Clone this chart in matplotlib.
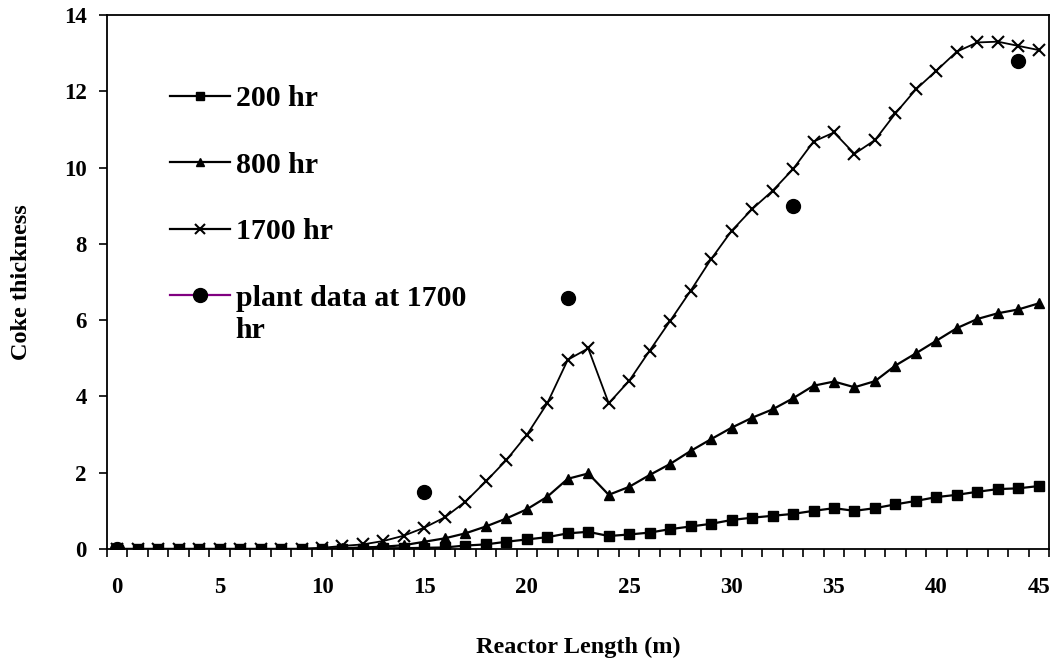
import numpy as np
import matplotlib
matplotlib.use("Agg")
import matplotlib.pyplot as plt

plt.rcParams['font.family'] = ['Liberation Serif', 'DejaVu Serif']
plt.rcParams['font.weight'] = 'bold'

# reactor positions (m)
length = list(range(46))

coke_200 = [0, 0, 0, 0, 0, 0, 0, 0, 0, 0,
            0.01, 0.01, 0.01, 0.02, 0.02, 0.03, 0.04, 0.09, 0.12, 0.19,
            0.25, 0.31, 0.41, 0.45, 0.34, 0.38, 0.43, 0.52, 0.59, 0.66,
            0.76, 0.82, 0.87, 0.92, 1.0, 1.07, 1.0, 1.07, 1.17, 1.26,
            1.36, 1.42, 1.50, 1.57, 1.59, 1.65]

coke_800 = [0, 0, 0, 0, 0, 0, 0, 0, 0, 0,
            0.01, 0.02, 0.04, 0.06, 0.10, 0.19, 0.28, 0.41, 0.59, 0.80,
            1.04, 1.37, 1.84, 1.98, 1.42, 1.63, 1.94, 2.23, 2.57, 2.88,
            3.18, 3.44, 3.66, 3.95, 4.28, 4.39, 4.24, 4.40, 4.81, 5.13,
            5.46, 5.79, 6.03, 6.18, 6.28, 6.44]

coke_1700 = [0, 0, 0, 0, 0, 0, 0, 0, 0, 0,
             0.03, 0.08, 0.12, 0.21, 0.35, 0.56, 0.83, 1.24, 1.77, 2.33,
             2.99, 3.82, 4.96, 5.26, 3.82, 4.41, 5.20, 5.98, 6.77, 7.60,
             8.34, 8.91, 9.39, 9.96, 10.68, 10.92, 10.36, 10.72, 11.42, 12.05,
             12.54, 13.04, 13.28, 13.30, 13.19, 13.08]

plant_x = [0, 15, 22, 33, 44]
plant_y = [0, 1.49, 6.59, 8.98, 12.79]

fig = plt.figure(figsize=(10.56, 6.66), dpi=100)
ax = fig.add_axes([0.1013, 0.1757, 0.8921, 0.8018])

ax.plot(length, coke_200, color='black', lw=1.6, marker='s', ms=7, label='200 hr')
ax.plot(length, coke_800, color='black', lw=1.6, marker='^', ms=7.5, label='800 hr')
ax.plot(length, coke_1700, color='black', lw=1.3, marker='x', ms=8, mew=1.5, label='1700 hr')
ax.plot(plant_x, plant_y, color='#800080', lw=0, marker='o', ms=10,
        mfc='black', mec='black', label='plant data at 1700')

ax.set_xlim(-0.5, 45.5)
ax.set_ylim(0, 14)

# category style x axis: labels every 5, tick marks between categories
ax.set_xticks(range(0, 46, 5))
ax.set_xticks(np.arange(-0.5, 46, 1), minor=True)
ax.tick_params(axis='x', which='major', length=0, pad=20, labelsize=16.5)
ax.tick_params(axis='x', which='minor', length=6, width=1.2, direction='out')
ax.set_yticks(range(0, 15, 2))
ax.tick_params(axis='y', which='major', length=6, width=1.2, direction='out',
               pad=8.5, labelsize=16.5)

for sp in ax.spines.values():
    sp.set_linewidth(1.3)

ax.set_xlabel('Reactor Length (m)', fontsize=17.5, fontweight='bold', labelpad=28)
ax.set_ylabel('Coke thickness', fontsize=17.5, fontweight='bold', labelpad=23)

leg = ax.legend(loc='upper left', bbox_to_anchor=(0.0669, 0.868), frameon=False,
                borderpad=0, borderaxespad=0, handlelength=2.0, labelspacing=1.32,
                handletextpad=0.2, prop={'weight': 'bold', 'size': 21.5})
for line in leg.get_lines():
    line.set_linewidth(1.6)
handles = leg.legend_handles
handles[3].set_linestyle('-')
handles[3].set_linewidth(1.6)
handles[3].set_markersize(10)
handles[0].set_markersize(5.5)
handles[1].set_markersize(6)
handles[2].set_markersize(7)

# wrapped second line of the plant data label, drawn after the legend
ax.annotate('hr', xy=(0, 0), xycoords=leg.get_texts()[3], xytext=(0, -19),
            textcoords='offset points', ha='left', va='baseline',
            fontsize=21.5, fontweight='bold', zorder=6, annotation_clip=False)

fig.savefig('out.png', dpi=100)
